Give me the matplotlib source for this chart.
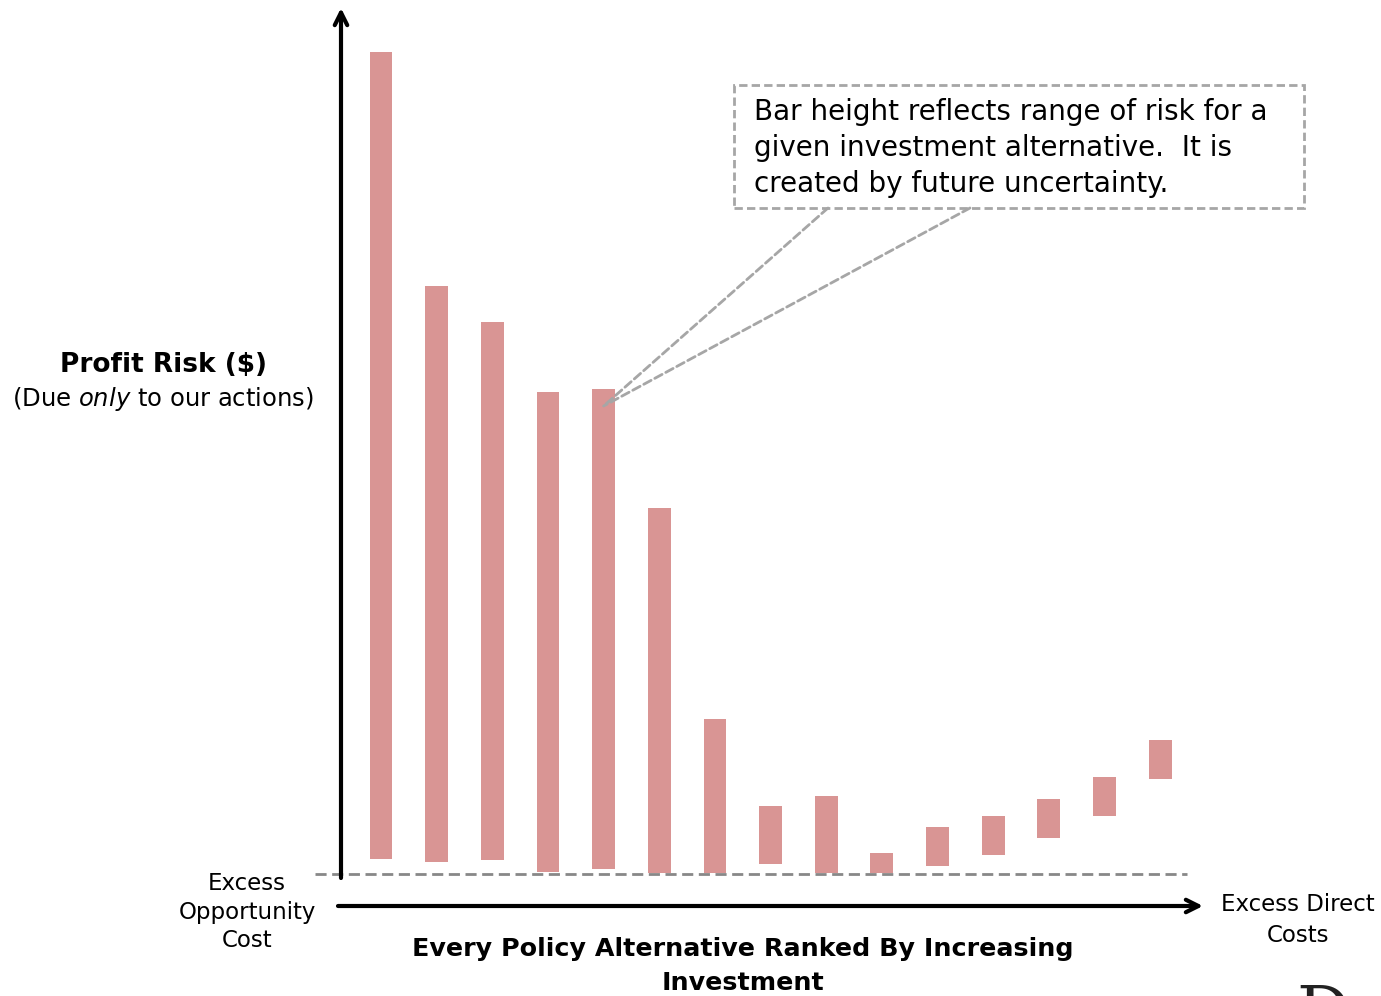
import matplotlib
matplotlib.use("Agg")
import matplotlib.pyplot as plt
import matplotlib.patches as mpatches
import numpy as np

# ---- data (values in arbitrary risk units, baseline = 0) ----
alternatives = list(range(1, 16))
risk_low = [1.5, 1.2, 1.4, 0.2, 0.5, 0.1, 0.1, 1.0, 0.1, 0.1, 0.8, 1.9, 3.6, 5.8, 9.5]
risk_high = [82.2, 58.8, 55.2, 48.2, 48.5, 36.6, 15.5, 6.8, 7.8, 2.1, 4.7, 5.8, 7.5, 9.7, 13.4]

ylabel_main = "Profit Risk ($)"
ylabel_sub = r"(Due $\mathit{only}$ to our actions)"
xlabel = "Every Policy Alternative Ranked By Increasing\nInvestment"
left_label = "Excess\nOpportunity\nCost"
right_label = "Excess Direct\nCosts"
callout = ("Bar height reflects range of risk for a\n"
           "given investment alternative.  It is\n"
           "created by future uncertainty.")

plt.rcParams['font.family'] = ['DejaVu Sans']
plt.rcParams['mathtext.fontset'] = 'custom'
plt.rcParams['mathtext.it'] = 'DejaVu Sans:italic'

W, H = 1381, 996
fig = plt.figure(figsize=(W / 100, H / 100), dpi=100)

def fx(x):
    return x / W

def fy(y):
    return 1 - y / H

ax = fig.add_axes([fx(341), fy(906), fx(1203) - fx(341), fy(8) - fy(906)])
xmin, xmax = -0.719, 14.77
ymin, ymax = -3.2, 86.6
ax.set_xlim(xmin, xmax)
ax.set_ylim(ymin, ymax)
for s in ax.spines.values():
    s.set_visible(False)
ax.set_xticks([])
ax.set_yticks([])

x = np.arange(len(alternatives))
lows = np.array(risk_low)
highs = np.array(risk_high)
ax.bar(x, highs - lows, bottom=lows, width=0.41, color='#d99594', zorder=2)

# baseline dashed
ax.plot([-1.186, 14.49], [0, 0], ls=(0, (4, 2)), color='#888888', lw=2,
        clip_on=False, zorder=3)

# axes arrows
ax.annotate("", xy=(xmin, ymax), xytext=(xmin, -0.4),
            arrowprops=dict(arrowstyle="->,head_length=0.9,head_width=0.45",
                            lw=3, color='black', shrinkA=0, shrinkB=0),
            annotation_clip=False)
ax.annotate("", xy=(xmax, ymin), xytext=(-0.773, ymin),
            arrowprops=dict(arrowstyle="->,head_length=0.9,head_width=0.45",
                            lw=3, color='black', shrinkA=0, shrinkB=0),
            annotation_clip=False)

# y label
fig.text(fx(163), fy(365), ylabel_main, fontsize=19, fontweight='bold',
         ha='center', va='center')
fig.text(fx(163), fy(399), ylabel_sub, fontsize=17.5, ha='center', va='center')

# end labels
fig.text(fx(247), fy(912), left_label, fontsize=16.5, ha='center', va='center',
         linespacing=1.32)
fig.text(fx(1298), fy(920), right_label, fontsize=16.5, ha='center', va='center',
         linespacing=1.4)

# x label
fig.text(fx(743), fy(966), xlabel, fontsize=18.3, fontweight='bold',
         ha='center', va='center', linespacing=1.52)

# callout box
rect = mpatches.Rectangle((fx(734), fy(208)), fx(1304) - fx(734), fy(85) - fy(208),
                          transform=fig.transFigure, fill=False,
                          edgecolor='#a6a6a6', lw=2, ls=(0, (3, 1.5)))
fig.patches.append(rect)
fig.text(fx(754), fy(148), callout, fontsize=20, ha='left', va='center',
         linespacing=1.38)

tip = (4, (874 - 406) / 10)
for px in (828, 970):
    ax.annotate("", xy=tip, xycoords='data',
                xytext=(fx(px), fy(208)), textcoords='figure fraction',
                arrowprops=dict(arrowstyle='-', color='#a6a6a6', lw=2,
                                ls=(0, (3, 1.5)), shrinkA=0, shrinkB=0),
                annotation_clip=False, zorder=4)

# partial logo letter at the bottom-right edge (cut off, as in the source)
fig.text(fx(1296), fy(983), "D", fontsize=48, family='DejaVu Serif',
         ha='left', va='top', color='#222222')

fig.savefig("out.png", dpi=100)
